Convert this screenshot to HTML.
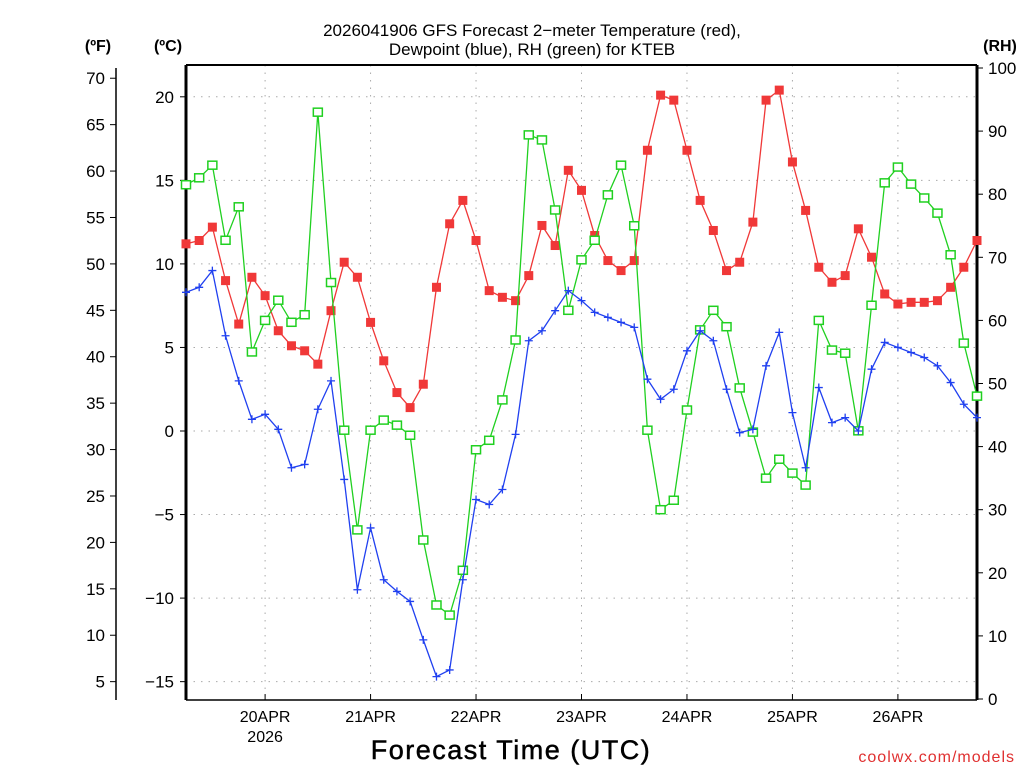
<!DOCTYPE html>
<html><head><meta charset="utf-8"><style>
html,body{margin:0;padding:0;background:#fff;width:1024px;height:768px;overflow:hidden}
svg{display:block;font-family:"Liberation Sans","DejaVu Sans",sans-serif}
</style></head><body>
<svg id="chart" width="1024" height="768" viewBox="0 0 1024 768"></svg>
<script>
const hoursHourly=[0,3,6,9,12,15,18,21,24,27,30,33,36,39,42,45,48,51,54,57,60,63,66,69,72,75,78,81,84,87,90,93,96,99,102,105,108,111,114,117,120,123,126,129,132,135,138,141,144,147,150,153,156,159,162,165,168,171,174,177,180];
const tempC=[11.2,11.4,12.2,9.0,6.4,9.2,8.1,6.0,5.1,4.8,4.0,7.2,10.1,9.2,6.5,4.2,2.3,1.4,2.8,8.6,12.4,13.8,11.4,8.4,8.0,7.8,9.3,12.3,11.1,15.6,14.4,11.7,10.2,9.6,10.2,16.8,20.1,19.8,16.8,13.8,12.0,9.6,10.1,12.5,19.8,20.4,16.1,13.2,9.8,8.9,9.3,12.1,10.4,8.2,7.6,7.7,7.7,7.8,8.6,9.8,11.4];
const dewC=[8.3,8.6,9.6,5.7,3.0,0.7,1.0,0.1,-2.2,-2.0,1.3,3.0,-2.9,-9.5,-5.8,-8.9,-9.6,-10.2,-12.5,-14.7,-14.3,-8.9,-4.1,-4.4,-3.5,-0.2,5.4,6.0,7.2,8.4,7.8,7.1,6.8,6.5,6.2,3.1,1.9,2.5,4.8,6.0,5.4,2.5,-0.1,0.1,3.9,5.9,1.1,-2.2,2.6,0.5,0.8,0,3.7,5.3,5.0,4.7,4.4,3.9,2.9,1.6,0.8];
const rh=[81.5,82.6,84.6,72.7,78.0,55,60,63.2,59.7,60.9,93,66,42.6,26.8,42.6,44.2,43.4,41.8,25.2,14.9,13.3,20.4,39.5,41,47.4,56.9,89.4,88.6,77.5,61.6,69.6,72.7,79.9,84.6,75,42.6,30,31.5,45.8,58.5,61.6,59,49.3,42.3,35,38,35.8,33.9,60,55.3,54.8,42.5,62.4,81.8,84.3,81.6,79.4,77,70.4,56.4,48];
const cTicks=[20,15,10,5,0,-5,-10,-15];
const fTicks=[70,65,60,55,50,45,40,35,30,25,20,15,10,5];
const rhTicks=[100,90,80,70,60,50,40,30,20,10,0];
const dayLabels=["20APR","21APR","22APR","23APR","24APR","25APR","26APR"];
const dayHours=[18,42,66,90,114,138,162];

const X0=186,X1=977,Y0=65,Y1=700;
const xs=h=>X0+(h/180)*(X1-X0);
const yc=c=>431-c*16.71;
const yf=f=>yc((f-32)*5/9);
const yr=r=>699-r*6.31;
const svg=document.getElementById('chart');
const NS='http://www.w3.org/2000/svg';
function mk(tag,attrs,name,parent){const e=document.createElementNS(NS,tag);for(const k in attrs)e.setAttribute(k,attrs[k]);


(parent||svg).appendChild(e);return e;}
function txt(x,y,s,name,opts){const t=mk('text',Object.assign({x:x,y:y,'font-size':16,fill:'#000'},opts||{}),name);t.textContent=s;return t;}

cTicks.forEach(c=>{mk('line',{x1:X0,x2:X1,y1:yc(c),y2:yc(c),stroke:'#aaa','stroke-dasharray':'1.5,6'},'grid-h');});
dayHours.forEach(h=>{mk('line',{x1:xs(h),x2:xs(h),y1:Y0,y2:Y1,stroke:'#aaa','stroke-dasharray':'1.5,6'},'grid-v');});
mk('line',{x1:X0,x2:X1,y1:Y0,y2:Y0,stroke:'#000','stroke-width':2},'plot-top');
mk('line',{x1:X0,x2:X1,y1:Y1,y2:Y1,stroke:'#000','stroke-width':1.5},'plot-bottom');
mk('line',{x1:X0,x2:X0,y1:Y0,y2:Y1,stroke:'#000','stroke-width':3},'celsius-axis');
mk('line',{x1:X1,x2:X1,y1:Y0,y2:Y1,stroke:'#000','stroke-width':3},'rh-axis');
mk('line',{x1:116,x2:116,y1:68,y2:700,stroke:'#000','stroke-width':1.5},'fahrenheit-axis');
cTicks.forEach(c=>{mk('line',{x1:X0-6,x2:X0,y1:yc(c),y2:yc(c),stroke:'#000'},'c-tick');txt(174,yc(c)+6,String(c).replace('-','−'),'c-tick-label',{'text-anchor':'end','font-size':17});});
fTicks.forEach(f=>{mk('line',{x1:110,x2:116,y1:yf(f),y2:yf(f),stroke:'#000'},'f-tick');txt(105,yf(f)+6,String(f),'f-tick-label',{'text-anchor':'end','font-size':17});});
rhTicks.forEach(r=>{mk('line',{x1:X1,x2:X1+6,y1:yr(r),y2:yr(r),stroke:'#000'},'rh-tick');txt(988,yr(r)+6,String(r),'rh-tick-label',{'font-size':17});});
dayHours.forEach((h,i)=>{mk('line',{x1:xs(h),x2:xs(h),y1:Y1,y2:Y1-6,stroke:'#000'},'x-tick');txt(xs(h),722,dayLabels[i],'x-tick-label',{'text-anchor':'middle','font-size':16});});
txt(xs(18),742,'2026','x-year-label',{'text-anchor':'middle','font-size':16});
txt(98,51,'(ºF)','f-unit',{'text-anchor':'middle','font-weight':'bold','font-size':16});
txt(168,51,'(ºC)','c-unit',{'text-anchor':'middle','font-weight':'bold','font-size':16});
txt(1000,51,'(RH)','rh-unit',{'text-anchor':'middle','font-weight':'bold','font-size':16});
txt(532,36,'2026041906 GFS Forecast 2−meter Temperature (red),','title-line1',{'text-anchor':'middle','font-size':17});
txt(532,55,'Dewpoint (blue), RH (green) for KTEB','title-line2',{'text-anchor':'middle','font-size':17});
txt(511,759,'Forecast Time (UTC)','x-axis-title',{'text-anchor':'middle','font-size':27,'letter-spacing':'1.5','stroke':'#000','stroke-width':0.5});
txt(1015,762,'coolwx.com/models','watermark',{'text-anchor':'end','font-size':16,fill:'#e03030','letter-spacing':'1'});

function series(vals,yfn,color,name,marker){
  const pts=vals.map((v,i)=>[xs(hoursHourly[i]),yfn(v)]);
  mk('polyline',{points:pts.map(p=>p.join(',')).join(' '),fill:'none',stroke:color,'stroke-width':1.3},name+'-line');
  pts.forEach(p=>{
    if(marker==='fill')mk('rect',{x:p[0]-4.5,y:p[1]-4.5,width:9,height:9,fill:color},name+'-point');
    else if(marker==='open')mk('rect',{x:p[0]-4.5,y:p[1]-4,width:9,height:8,fill:'#fff',stroke:color,'stroke-width':1.5},name+'-point');
    else mk('path',{d:`M${p[0]-4},${p[1]}h8M${p[0]},${p[1]-4}v8`,stroke:color,'stroke-width':1.3},name+'-point');
  });
}
series(tempC,yc,'#f03838','temperature','fill');
series(rh,yr,'#20d020','rh','open');
series(dewC,yc,'#2040f0','dewpoint','plus');
</script>
</body></html>
